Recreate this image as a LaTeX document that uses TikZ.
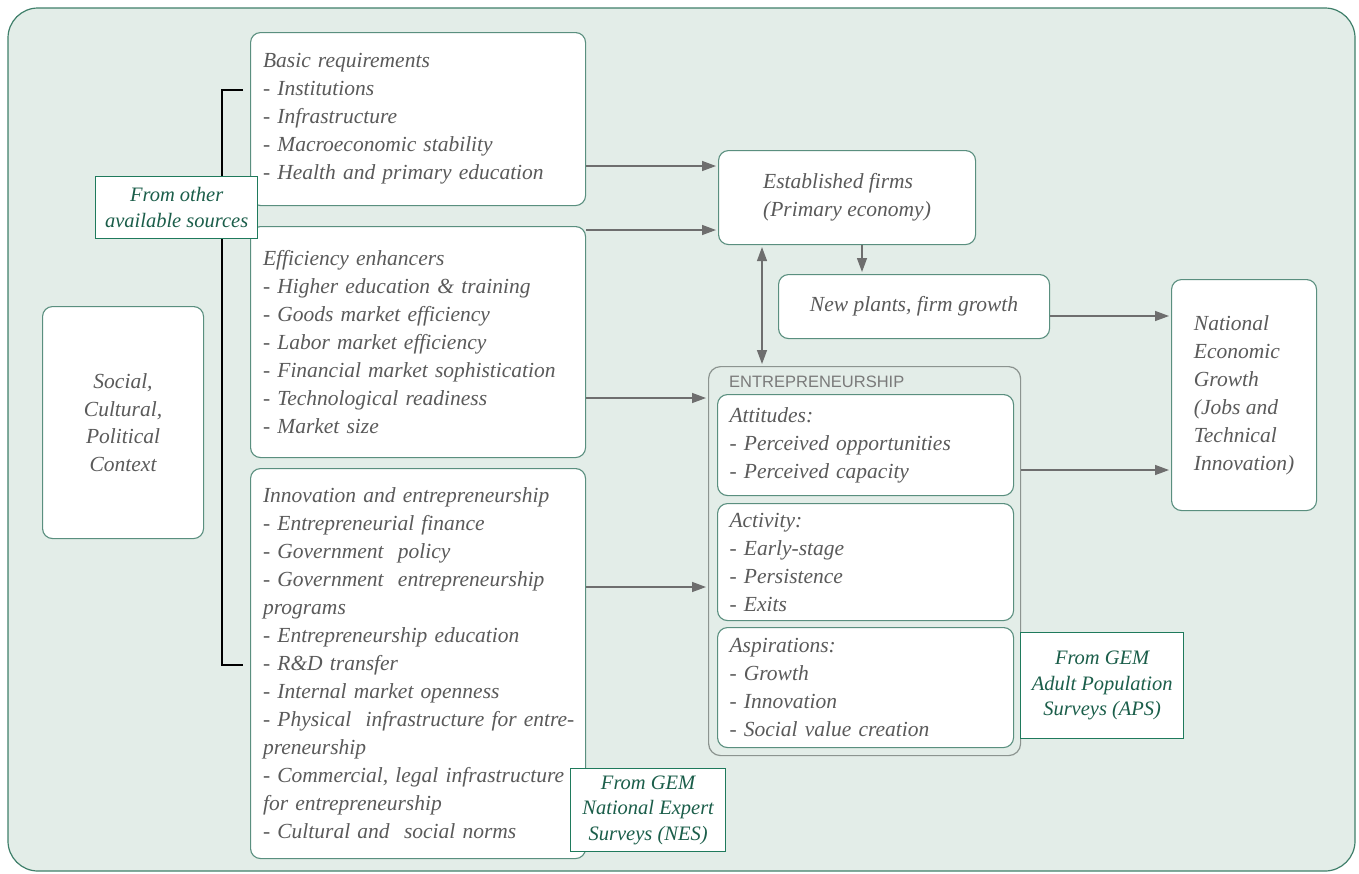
\documentclass[tikz,border=0pt]{standalone}
\usepackage{fontspec}
\setmainfont{Liberation Serif}
\setsansfont{Liberation Sans}
\usetikzlibrary{arrows.meta}

\definecolor{bgfill}{HTML}{E3EDE8}
\definecolor{frameline}{HTML}{3F7F6A}
\definecolor{boxline}{HTML}{5A8F7F}
\definecolor{groupline}{HTML}{8C9490}
\definecolor{srcline}{HTML}{1F7A5C}
\definecolor{srctext}{HTML}{1B5E4A}
\definecolor{bodytext}{HTML}{5A5A5A}
\definecolor{arrowgray}{HTML}{6E6E6E}
\definecolor{captiongray}{HTML}{7A7A7A}

\newcommand\diagbody{\fontsize{21.5}{28}\selectfont\itshape}
\newcommand\diagsrc{\fontsize{20.5}{25.5}\selectfont\itshape}
\newcommand\diagcap{\fontsize{16.5}{18}\selectfont\sffamily}

\begin{document}
\begin{tikzpicture}[x=1pt,y=-1pt,
  every node/.style={inner sep=0pt},
  box/.style={draw=boxline, fill=white, line width=1.1pt, rounded corners=10pt,
    anchor=north west, text=bodytext, font=\diagbody},
  listbox/.style={box, align=left},
  group/.style={draw=groupline, fill=bgfill, line width=1.2pt, rounded corners=12pt,
    anchor=north west},
  src/.style={draw=srcline, fill=white, line width=1.3pt, anchor=north west,
    text=srctext, align=center, font=\diagsrc},
  flow/.style={draw=arrowgray, line width=1.4pt, shorten >=2pt, shorten <=0pt},
  >={Triangle[length=14pt,width=10pt]},
  bracket/.style={draw=black, line width=1.2pt}
]
\useasboundingbox (0,0) rectangle (1359,873);

% outer panel
\draw[draw=frameline, fill=bgfill, line width=1.2pt, rounded corners=30pt]
  (8,8) rectangle (1355,871);

% pillar boxes on the left
\node[listbox, text width=310pt, inner xsep=12.5pt, minimum height=173pt] (basic) at (250,32)
  {Basic requirements\\
   - Institutions\\
   - Infrastructure\\
   - Macroeconomic stability\\
   - Health and primary education};

\node[listbox, text width=310pt, inner xsep=12.5pt, minimum height=231pt] (efficiency) at (250,226)
  {Efficiency enhancers\\
   - Higher education \& training\\
   - Goods market efficiency\\
   - Labor market efficiency\\
   - Financial market sophistication\\
   - Technological readiness\\
   - Market size};

\node[listbox, text width=310pt, inner xsep=12.5pt, minimum height=390pt] (innovation) at (250,468)
  {Innovation and entrepreneurship\\
   - Entrepreneurial finance\\
   - Government~ policy\\
   \mbox{- Government~ entrepreneurship}\\
   programs\\
   - Entrepreneurship education\\
   - R\&D transfer\\
   - Internal market openness\\
   \mbox{- Physical~ infrastructure for entre-}\\
   preneurship\\
   \mbox{- Commercial, legal infrastructure}\\
   for entrepreneurship\\
   - Cultural and~ social norms};

\node[box, align=center, minimum width=161pt, minimum height=232pt, font=\fontsize{21.5}{27.5}\selectfont\itshape]
  (context) at (42,306) {Social,\\Cultural,\\Political\\Context};

% outcome boxes
\node[box, align=left, minimum width=257pt, minimum height=94pt] (estab) at (718,150)
  {Established firms\\(Primary economy)};
\node[box, align=left, minimum width=271pt, minimum height=64pt] (newplants) at (778,274)
  {New plants, firm growth};
\node[box, align=left, minimum width=145pt, minimum height=231pt] (national) at (1171,279)
  {National\\Economic\\Growth\\(Jobs and\\Technical\\Innovation)};

% entrepreneurship group
\node[group, minimum width=312pt, minimum height=389pt] (entre) at (708,366) {};
\node[anchor=base west, text=captiongray, font=\diagcap] (entrecap) at (729,387) {ENTREPRENEURSHIP};
\node[listbox, text width=272pt, inner xsep=12pt, minimum height=101pt] (attitudes) at (717,394)
  {Attitudes:\\- Perceived opportunities\\- Perceived capacity};
\node[listbox, text width=272pt, inner xsep=12pt, minimum height=117pt] (activity) at (717,503)
  {Activity:\\- Early-stage\\- Persistence\\- Exits};
\node[listbox, text width=272pt, inner xsep=12pt, minimum height=120pt] (aspirations) at (717,627)
  {Aspirations:\\- Growth\\- Innovation\\- Social value creation};

% connectors
\draw[flow,->] (basic.east |- 0,166) -- (estab.west |- 0,166);
\draw[flow,->] (efficiency.east |- 0,230) -- (estab.west |- 0,230);
\draw[flow,->] (efficiency.east |- 0,398) -- (entre.west |- 0,398);
\draw[flow,->] (innovation.east |- 0,587) -- (entre.west |- 0,587);
\draw[flow,->] (estab.south -| 862,0) -- (newplants.north -| 862,0);
\draw[flow,<->, shorten <=2pt] (estab.south -| 762,0) -- (entre.north -| 762,0);
\draw[flow,->] (newplants.east |- 0,316) -- (national.west |- 0,316);
\draw[flow,->] (entre.east |- 0,470) -- (national.west |- 0,470);

% bracket grouping the pillars
\coordinate (brtop) at (243,90);
\coordinate (brbot) at (243,665);
\draw[bracket] (brtop) -- ++(-21,0) |- (brbot);

% data source labels
\node[src, minimum width=162pt, minimum height=62pt] (othersrc) at (95,176)
  {From other\\available sources};
\node[src, minimum width=155pt, minimum height=83pt] (nes) at (570,768)
  {From GEM\\National Expert\\Surveys (NES)};
\node[src, minimum width=163pt, minimum height=106pt] (aps) at (1020,632)
  {From GEM\\Adult Population\\Surveys (APS)};
\end{tikzpicture}
\end{document}
